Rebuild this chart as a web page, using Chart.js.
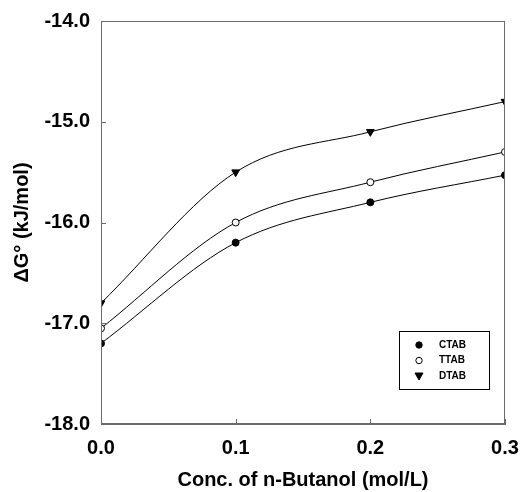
<!DOCTYPE html>
<html>
<head>
<meta charset="utf-8">
<script src="https://cdn.jsdelivr.net/npm/chart.js@4/dist/chart.umd.min.js"></script>
<style>
  body { margin: 0; background: #fff; }
</style>
</head>
<body>
<canvas id="chart" width="522" height="492"></canvas>
<script>
const conc = [0.0, 0.1, 0.2, 0.3];
const ctab = [-17.2, -16.2, -15.8, -15.53];
const ttab = [-17.05, -16.0, -15.6, -15.3];
const dtab = [-16.8, -15.5, -15.1, -14.8];
const xTicks = [0.0, 0.1, 0.2, 0.3];
const yTicks = [-18, -17, -16, -15, -14];

const FONT = '"Liberation Sans", Arial, sans-serif';
const AXIS = '#6b6b6b';

function pts(ys) {
    return conc.map((x, i) => ({ x: x, y: ys[i] }));
}

function series(label, ys, style, fill, rot) {
    return {
        label: label,
        data: pts(ys),
        borderColor: '#000',
        borderWidth: 1,
        pointStyle: style,
        pointRadius: style === 'triangle' ? 4.5 : 3.5,
        pointRotation: rot || 0,
        pointBackgroundColor: fill,
        pointBorderColor: '#000',
        pointBorderWidth: 1,
        cubicInterpolationMode: 'monotone',
        fill: false
    };
}

// frame, inward ticks, and the legend box
const extras = {
    id: 'extras',
    afterDatasetsDraw(chart) {
        const ctx = chart.ctx;
        const a = chart.chartArea;
        const xs = chart.scales.x, ys = chart.scales.y;
        ctx.save();
        ctx.strokeStyle = AXIS;
        ctx.lineWidth = 1;
        ctx.strokeRect(a.left + 0.5, a.top + 0.5, a.right - a.left - 1, a.bottom - a.top - 1);
        ctx.beginPath();
        xTicks.forEach(v => {
            const px = Math.round(xs.getPixelForValue(v)) + 0.5;
            ctx.moveTo(px, a.bottom);
            ctx.lineTo(px, a.bottom - 5);
        });
        yTicks.forEach(v => {
            const py = Math.round(ys.getPixelForValue(v)) + 0.5;
            ctx.moveTo(a.left, py);
            ctx.lineTo(a.left + 5, py);
        });
        ctx.stroke();

        // legend
        const bx = a.right - 106, by = a.bottom - 93, bw = 90, bh = 58;
        ctx.fillStyle = '#fff';
        ctx.fillRect(bx, by, bw, bh);
        ctx.strokeStyle = '#000';
        ctx.strokeRect(bx + 0.5, by + 0.5, bw, bh);
        ctx.font = 'bold 10px ' + FONT;
        ctx.textBaseline = 'middle';
        chart.data.datasets.forEach((ds, i) => {
            const cy = by + 14 + i * 15.5;
            const cx = bx + 20;
            ctx.fillStyle = ds.pointBackgroundColor;
            ctx.strokeStyle = '#000';
            ctx.beginPath();
            if (ds.pointStyle === 'circle') {
                ctx.arc(cx, cy, 3.2, 0, Math.PI * 2);
            } else {
                ctx.moveTo(cx - 4, cy - 3);
                ctx.lineTo(cx + 4, cy - 3);
                ctx.lineTo(cx, cy + 4);
                ctx.closePath();
            }
            ctx.fill();
            ctx.stroke();
            ctx.fillStyle = '#000';
            ctx.fillText(ds.label, bx + 40, cy);
        });
        ctx.restore();
    }
};

new Chart(document.getElementById('chart'), {
    type: 'line',
    data: {
        datasets: [
            series('CTAB', ctab, 'circle', '#000'),
            series('TTAB', ttab, 'circle', '#fff'),
            series('DTAB', dtab, 'triangle', '#000', 180)
        ]
    },
    options: {
        responsive: false,
        animation: false,
        layout: { padding: { top: 21, right: 17, left: 0, bottom: 0 } },
        plugins: {
            legend: { display: false },
            tooltip: { enabled: false }
        },
        scales: {
            x: {
                type: 'linear',
                min: 0,
                max: 0.3,
                afterBuildTicks: s => { s.ticks = xTicks.map(v => ({ value: v })); },
                afterFit: s => { s.height = 68; s.paddingLeft = 0; s.paddingRight = 0; },
                grid: { display: false, drawTicks: false },
                border: { display: true, color: AXIS },
                ticks: {
                    padding: 12,
                    color: '#000',
                    font: { family: FONT, size: 20, weight: 'bold' },
                    callback: v => v.toFixed(1)
                },
                title: {
                    display: true,
                    text: 'Conc. of n-Butanol (mol/L)',
                    color: '#000',
                    font: { family: FONT, size: 20, weight: 'bold' },
                    padding: { top: 4, bottom: 0 }
                }
            },
            y: {
                min: -18,
                max: -14,
                afterBuildTicks: s => { s.ticks = yTicks.map(v => ({ value: v })); },
                afterFit: s => { s.width = 101; s.paddingTop = 0; s.paddingBottom = 0; },
                grid: { display: false, drawTicks: false },
                border: { display: true, color: AXIS },
                ticks: {
                    padding: 11,
                    color: '#000',
                    font: { family: FONT, size: 20, weight: 'bold' },
                    callback: v => v.toFixed(1)
                },
                title: {
                    display: true,
                    text: 'ΔG° (kJ/mol)',
                    color: '#000',
                    font: { family: FONT, size: 20, weight: 'bold' },
                    padding: { top: 10, bottom: 0 }
                }
            }
        }
    },
    plugins: [extras]
});
</script>
</body>
</html>
